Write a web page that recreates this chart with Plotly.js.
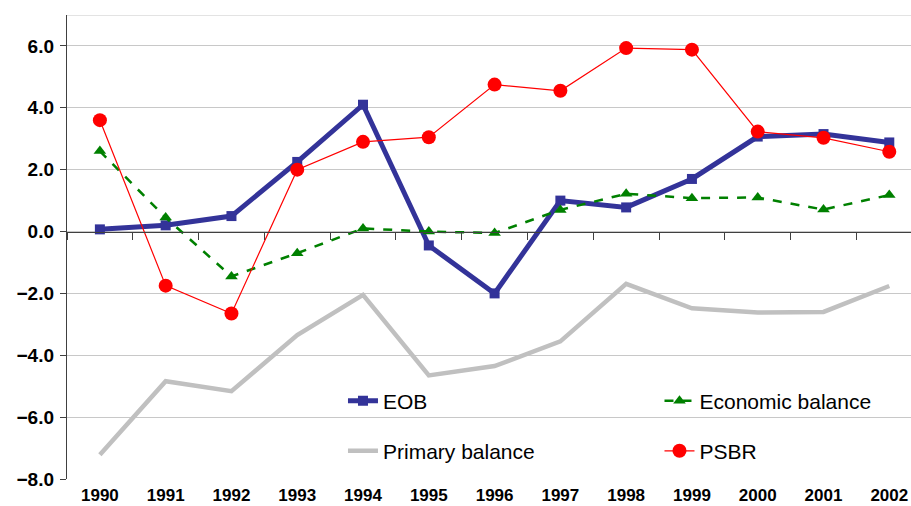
<!DOCTYPE html>
<html>
<head>
<meta charset="utf-8">
<script src="https://cdn.plot.ly/plotly-3.0.1.min.js"></script>
<style>html,body{margin:0;padding:0;background:#fff;}#chart{width:911px;height:506px;}</style>
</head>
<body>
<div id="chart"></div>
<script>
const years = ['1990','1991','1992','1993','1994','1995','1996','1997','1998','1999','2000','2001','2002'];
const eob = [0.07, 0.2, 0.5, 2.25, 4.1, -0.45, -2.0, 1.0, 0.78, 1.7, 3.07, 3.15, 2.88];
const economicBalance = [2.6, 0.45, -1.45, -0.7, 0.1, 0.0, -0.05, 0.7, 1.22, 1.08, 1.1, 0.71, 1.18];
const primaryBalance = [-7.22, -4.84, -5.16, -3.35, -2.05, -4.65, -4.35, -3.55, -1.69, -2.48, -2.62, -2.6, -1.76];
const psbr = [3.6, -1.75, -2.65, 2.0, 2.9, 3.05, 4.75, 4.55, 5.93, 5.88, 3.23, 3.03, 2.58];
const yTicks = [-8, -6, -4, -2, 0, 2, 4, 6];

const FONT = 'Liberation Sans, Arial, sans-serif';

const traces = [
  {x: years, y: primaryBalance, name: 'Primary balance', type: 'scatter', mode: 'lines',
   line: {color: '#c0c0c0', width: 4.5}, legend: 'legend3', xaxis: 'x', yaxis: 'y'},
  {x: years, y: eob, name: 'EOB', type: 'scatter', mode: 'lines+markers',
   line: {color: '#333399', width: 5}, marker: {symbol: 'square', size: 10, color: '#333399'},
   legend: 'legend', xaxis: 'x', yaxis: 'y'},
  {x: years, y: economicBalance, name: 'Economic balance', type: 'scatter', mode: 'lines+markers',
   line: {color: '#008000', width: 2.5, dash: 'dash'}, marker: {symbol: 'triangle-up', size: 11, color: '#008000'},
   legend: 'legend2', xaxis: 'x', yaxis: 'y'},
  {x: years, y: psbr, name: 'PSBR', type: 'scatter', mode: 'lines+markers',
   line: {color: '#ff0000', width: 1.2}, marker: {symbol: 'circle', size: 14, color: '#ff0000'},
   legend: 'legend4', xaxis: 'x', yaxis: 'y'},
  {x: years, y: eob, name: 'axis-helper', type: 'scatter', mode: 'lines',
   line: {width: 0, color: 'rgba(0,0,0,0)'}, opacity: 0, hoverinfo: 'skip', showlegend: false,
   xaxis: 'x2', yaxis: 'y'}
];

function leg(x, y) {
  return {
    orientation: 'v', x: x, xanchor: 'left', y: y, yanchor: 'middle',
    bgcolor: 'rgba(0,0,0,0)', borderwidth: 0,
    font: {family: FONT, size: 21, color: '#000'}
  };
}

const xr = [-0.5, 12.33];
const layout = {
  width: 911, height: 506,
  margin: {l: 67, r: 0, t: 15, b: 27},
  paper_bgcolor: '#ffffff', plot_bgcolor: '#ffffff',
  showlegend: true,
  font: {family: FONT, color: '#000'},
  xaxis: {
    type: 'category', categoryorder: 'array', categoryarray: years,
    range: xr, anchor: 'free', position: 8/15,
    showline: true, linecolor: '#404040', linewidth: 1.2,
    ticks: 'outside', ticklen: 7, tickcolor: '#404040', tickwidth: 1, tickson: 'boundaries',
    showticklabels: false, showgrid: false, zeroline: false
  },
  xaxis2: {
    type: 'category', categoryorder: 'array', categoryarray: years,
    range: xr, overlaying: 'x', anchor: 'y', side: 'bottom',
    showline: false, ticks: '', showgrid: false, zeroline: false,
    tickfont: {family: FONT, size: 17, weight: 'bold', color: '#000'},
    ticklabelstandoff: 4
  },
  yaxis: {
    range: [-8, 7], tickvals: yTicks, tickformat: '.1f',
    showgrid: true, gridcolor: '#c8c8c8', gridwidth: 1,
    showline: true, linecolor: '#404040', linewidth: 1.2,
    ticks: 'outside', ticklen: 6, tickcolor: '#404040',
    zeroline: false,
    tickfont: {family: FONT, size: 19, weight: 'bold', color: '#000'},
    ticklabelstandoff: 2
  },
  shapes: [
    {type: 'line', xref: 'paper', yref: 'y', x0: 0, x1: 1, y0: 7, y1: 7,
     line: {color: '#c8c8c8', width: 1}, layer: 'below'}
  ],
  legend: leg(0.327, 0.168),
  legend2: leg(0.702, 0.168),
  legend3: leg(0.327, 0.060),
  legend4: leg(0.702, 0.060)
};

Plotly.newPlot('chart', traces, layout, {displayModeBar: false, staticPlot: true});
</script>
</body>
</html>
